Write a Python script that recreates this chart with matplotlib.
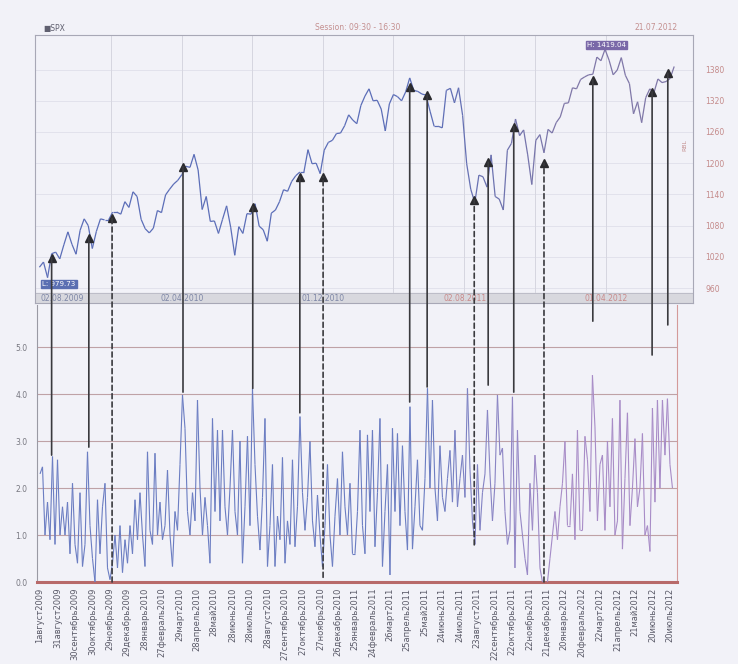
import matplotlib
matplotlib.use('Agg')
import matplotlib.pyplot as plt
import matplotlib.dates as mdates
from matplotlib.collections import LineCollection
from matplotlib.patches import ConnectionPatch
import numpy as np
import pandas as pd

# S&P 500, weekly closes
spx = [1000, 1010, 980, 1026, 1029, 1016, 1043, 1068, 1044, 1025, 1071, 1093, 1080, 1036,
       1069, 1093, 1091, 1091, 1106, 1106, 1102, 1126, 1115,
       1145, 1136, 1092, 1074, 1066, 1075, 1109, 1105, 1139, 1150, 1160, 1167,
       1178, 1194, 1192, 1217, 1187, 1111, 1136, 1088, 1089, 1065, 1092, 1118, 1077,
       1023, 1078, 1065, 1103, 1102, 1122, 1079, 1072, 1050, 1104, 1110, 1126, 1149,
       1146, 1165, 1176, 1183, 1183, 1226, 1199, 1200, 1180, 1225, 1240, 1244, 1257, 1258,
       1272, 1293, 1283, 1276, 1311, 1329, 1343, 1320, 1321, 1304, 1262, 1314,
       1332, 1328, 1320, 1337, 1364, 1340, 1338, 1333, 1331, 1300, 1271, 1271, 1268,
       1340, 1344, 1316, 1345, 1292, 1199, 1150, 1124, 1177, 1174, 1154, 1216, 1136, 1131,
       1110, 1225, 1238, 1285, 1253, 1264, 1216, 1159, 1244, 1255, 1220, 1265, 1258,
       1278, 1289, 1315, 1316, 1345, 1343, 1361, 1366, 1370, 1371, 1404, 1397, 1419,
       1398, 1370, 1379, 1403, 1369, 1353, 1295, 1318, 1278, 1326, 1343, 1335, 1362,
       1355, 1357, 1363, 1386]
spx_dates = pd.date_range('2009-07-31', periods=len(spx), freq='W-FRI')

# lower panel indicator, read left to right
osc = [2.3, 2.45, 1.0, 1.7, 0.9, 2.67, 0.8, 2.6, 1.0, 1.6,
       1.0, 1.7, 0.6, 2.1, 0.8, 0.4, 1.9, 0.33, 0.8, 2.77,
       1.2, 0.5, 0.0, 1.75, 0.6, 1.6, 2.1, 0.3, 0.05, 0.4,
       1.0, 0.3, 1.2, 0.2, 0.9, 0.4, 1.2, 0.6, 1.75, 0.9,
       1.9, 1.0, 0.33, 2.77, 1.1, 0.8, 2.74, 1.0, 1.7, 0.9,
       1.2, 2.38, 1.0, 0.33, 1.5, 1.1, 2.5, 3.98, 3.27, 1.5,
       1.0, 1.9, 1.3, 3.87, 2.0, 1.0, 1.8, 1.2, 0.4, 3.48,
       1.5, 3.23, 1.3, 3.23, 1.6, 1.0, 2.0, 3.23, 1.5, 1.0,
       3.0, 0.4, 1.6, 3.1, 1.2, 4.12, 2.5, 1.4, 0.68, 1.8,
       3.48, 0.33, 1.2, 2.5, 0.33, 1.4, 0.9, 2.65, 0.4, 1.3,
       0.8, 2.6, 0.75, 1.6, 3.52, 1.9, 1.1, 1.8, 2.99, 1.3,
       0.75, 1.85, 1.0, 0.33, 1.2, 2.5, 1.0, 0.33, 1.4, 2.2,
       1.0, 2.77, 1.6, 1.0, 2.1, 0.6, 0.6, 1.5, 3.23, 1.2,
       0.6, 3.13, 1.5, 3.23, 0.75, 1.9, 3.48, 0.33, 1.5, 2.5,
       0.15, 3.27, 1.5, 3.16, 1.2, 2.9, 1.5, 0.68, 3.73, 0.7,
       1.6, 2.6, 1.2, 1.1, 2.2, 4.12, 2.0, 3.87, 2.0, 1.3,
       2.9, 1.8, 1.5, 2.2, 2.8, 1.7, 3.23, 1.6, 2.2, 2.7,
       1.8, 4.12, 2.4, 1.3, 0.8, 2.5, 1.1, 1.9, 2.3, 3.66,
       2.3, 1.3, 2.1, 3.98, 2.7, 2.85, 1.5, 0.8, 1.1, 3.94,
       0.3, 3.23, 1.5, 1.0, 0.5, 0.15, 2.1, 1.1, 2.7, 1.9,
       0.3, 0.0, 0.0, 0.0, 0.5, 1.0, 1.5, 0.9, 1.6, 2.1,
       2.99, 1.2, 1.2, 2.3, 0.9, 3.23, 1.1, 1.1, 3.1, 2.6,
       1.5, 4.4, 3.3, 1.3, 2.5, 2.7, 1.1, 3.0, 1.6, 3.48,
       1.0, 1.3, 3.87, 0.7, 2.2, 3.6, 1.2, 2.0, 3.05, 1.6,
       2.0, 3.16, 1.0, 1.2, 0.65, 3.7, 1.7, 3.87, 2.0, 3.87,
       2.7, 3.9, 2.5, 2.0]
osc_dates = pd.date_range('2009-08-01', '2012-07-24', periods=len(osc))

# arrows: date, price at the tip, indicator value at the foot, dashed?
arr_dates = ['2009-08-21', '2009-10-24', '2009-12-03', '2010-04-04', '2010-08-02', '2010-10-22',
             '2010-12-01', '2011-04-29', '2011-05-29', '2011-08-18', '2011-09-11', '2011-10-25',
             '2011-12-16', '2012-03-09', '2012-06-19', '2012-07-16']
arr_price = [1018, 1056, 1095, 1193, 1116, 1174, 1174, 1346, 1331, 1129, 1202, 1270,
             1200, 1360, 1337, 1373]
arr_osc = [2.70, 2.87, 0.0, 4.04, 4.12, 3.6, 0.1, 3.83, 4.15, 0.79, 4.19, 4.04,
           0.0, 5.55, 4.83, 5.47]
arr_dashed = [False, False, True, False, False, False, True, False, False, True, False, False,
              True, False, False, False]

tick_dates = ['2009-08-01', '2009-08-31', '2009-09-30', '2009-10-30', '2009-11-29', '2009-12-29',
              '2010-01-28', '2010-02-27', '2010-03-29', '2010-04-28', '2010-05-28', '2010-06-28',
              '2010-07-28', '2010-08-28', '2010-09-27', '2010-10-27', '2010-11-27', '2010-12-26',
              '2011-01-25', '2011-02-24', '2011-03-26', '2011-04-25', '2011-05-25', '2011-06-24',
              '2011-07-24', '2011-08-23', '2011-09-22', '2011-10-22', '2011-11-22', '2011-12-21',
              '2012-01-20', '2012-02-20', '2012-03-22', '2012-04-21', '2012-05-21', '2012-06-20',
              '2012-07-20']
months_ru = ['январь', 'февраль', 'март', 'апрель', 'май', 'июнь', 'июль', 'август',
             'сентябрь', 'октябрь', 'ноябрь', 'декабрь']

strip_dates = ['2009-08-02', '2010-04-02', '2010-12-01', '2011-08-02', '2012-04-01']
strip_labels = ['02.08.2009', '02.04.2010', '01.12.2010', '02.08.2011', '01.04.2012']
grid_dates = ['2009-12-01', '2010-04-02', '2010-08-01', '2010-12-01', '2011-04-01',
              '2011-08-01', '2011-12-01', '2012-04-01']
price_ticks = [960, 1020, 1080, 1140, 1200, 1260, 1320, 1380]

W, H = 738, 664
BG = '#f2f2f8'
fig = plt.figure(figsize=(W / 100, H / 100), dpi=100, facecolor=BG)


def box(x0, y0, x1, y1):
    return [x0 / W, 1 - y1 / H, (x1 - x0) / W, (y1 - y0) / H]


ax_top = fig.add_axes(box(35, 35, 693, 303), facecolor=BG)
ax_bot = fig.add_axes(box(37, 305, 677, 582), facecolor=BG)

origin = mdates.date2num(pd.Timestamp('2009-08-01'))
px_day = 0.5813
ax_top.set_xlim(origin + (35 - 40) / px_day, origin + (693 - 40) / px_day)
ax_bot.set_xlim(origin + (37 - 40) / px_day, origin + (677 - 40) / px_day)


def gradient_line(ax, x, y, c0, c1, lo, hi, lw):
    pts = np.column_stack([x, y])
    segs = np.stack([pts[:-1], pts[1:]], axis=1)
    xm = (x[:-1] + x[1:]) / 2
    t = np.clip((xm - lo) / (hi - lo), 0, 1)[:, None]
    cols = (1 - t) * np.array(c0) + t * np.array(c1)
    lc = LineCollection(segs, colors=cols, linewidths=lw, zorder=3)
    ax.add_collection(lc)


lo_t = mdates.date2num(pd.Timestamp('2011-06-01'))
hi_t = mdates.date2num(pd.Timestamp('2012-01-15'))

# ---- upper panel
ax_top.set_ylim(931.2, 1446.5)
for p in price_ticks:
    ax_top.axhline(p, color='#e0e0ea', lw=0.6, zorder=1)
for d in grid_dates:
    ax_top.axvline(mdates.date2num(pd.Timestamp(d)), color='#d6d6e0', lw=0.7, zorder=1)
ax_top.axhspan(931.2, 950.4, color='#d8d8de', zorder=2)
ax_top.axhline(950.4, color='#b8b8c4', lw=0.6, zorder=2)

xs = mdates.date2num(spx_dates)
gradient_line(ax_top, xs, np.array(spx, float), (0.36, 0.43, 0.72), (0.50, 0.47, 0.66),
              lo_t, hi_t, 0.9)

for d, lab, i in zip(strip_dates, strip_labels, range(len(strip_dates))):
    ax_top.text(mdates.date2num(pd.Timestamp(d)), 940.5, lab, fontsize=5.5,
                ha='left' if i == 0 else 'center', va='center',
                color='#7d86a6' if i < 3 else '#c98a8a', zorder=4)

ax_top.yaxis.tick_right()
ax_top.set_yticks(price_ticks)
ax_top.set_yticklabels([str(p) for p in price_ticks])
ax_top.tick_params(axis='y', length=0, pad=9, labelsize=5.5, labelcolor='#c48a8a')
ax_top.set_xticks([])
for s in ax_top.spines.values():
    s.set_color('#a8a8b6')
    s.set_linewidth(0.8)

ax_top.text(pd.Timestamp('2012-04-02'), 1428, 'H: 1419.04', fontsize=5, color='white',
            ha='center', va='center', zorder=6,
            bbox=dict(boxstyle='square,pad=0.15', fc='#7a68a8', ec='#7a68a8'))
ax_top.text(pd.Timestamp('2009-08-05'), 968.6, 'L: 979.73', fontsize=5, color='white',
            ha='left', va='center', zorder=6,
            bbox=dict(boxstyle='square,pad=0.15', fc='#5a6fb2', ec='#5a6fb2'))

fig.text(43 / W, 1 - 28 / H, '■SPX', fontsize=5.5, color='#606070', va='center')
fig.text(358 / W, 1 - 28 / H, 'Session: 09:30 - 16:30', fontsize=5.5, color='#c49090',
         ha='center', va='center')
fig.text(678 / W, 1 - 28 / H, '21.07.2012', fontsize=5.5, color='#c49090',
         ha='right', va='center')
fig.text(685 / W, 1 - 145 / H, 'RBL', fontsize=4.5, color='#c49090', rotation=90,
         ha='center', va='center')

# ---- lower panel
ax_bot.set_ylim(0, 5.894)
ax_bot.set_yticks([0, 1, 2, 3, 4, 5])
ax_bot.set_yticklabels(['0.0', '1.0', '2.0', '3.0', '4.0', '5.0'])
ax_bot.tick_params(axis='y', length=0, pad=7, labelsize=5.5, labelcolor='#777780')
for v in [1, 2, 3, 4, 5]:
    ax_bot.axhline(v, color='#bfa2a6', lw=0.8, zorder=1)

xo = mdates.date2num(osc_dates)
gradient_line(ax_bot, xo, np.array(osc, float), (0.42, 0.49, 0.76), (0.66, 0.55, 0.78),
              lo_t, hi_t, 0.8)

tick_x = [mdates.date2num(pd.Timestamp(d)) for d in tick_dates]
tick_lab = []
for d in tick_dates:
    t = pd.Timestamp(d)
    tick_lab.append(f'{t.day}{months_ru[t.month - 1]}{t.year}')
ax_bot.set_xticks(tick_x)
ax_bot.set_xticklabels(tick_lab, rotation=90, fontsize=6, color='#5a5a68')
ax_bot.tick_params(axis='x', length=0, pad=4)

ax_bot.spines['top'].set_visible(False)
ax_bot.spines['bottom'].set_color('#b86a6a')
ax_bot.spines['bottom'].set_linewidth(2.2)
ax_bot.spines['left'].set_color('#9a9aa4')
ax_bot.spines['left'].set_linewidth(0.8)
ax_bot.spines['right'].set_color('#d49a9a')
ax_bot.spines['right'].set_linewidth(0.8)

# ---- arrows linking the two panels
for d, p, o, dashed in zip(arr_dates, arr_price, arr_osc, arr_dashed):
    x = mdates.date2num(pd.Timestamp(d))
    con = ConnectionPatch(xyA=(x, o), coordsA=ax_bot.transData,
                          xyB=(x, p), coordsB=ax_top.transData,
                          color='#3a3a3e', lw=1.2,
                          linestyle=(0, (3, 2)) if dashed else '-', zorder=5)
    fig.add_artist(con)
    ax_top.plot([x], [p], marker='^', ms=6, color='#2a2a2e', zorder=7, clip_on=False)

fig.savefig('out.png', dpi=100, facecolor=BG)
